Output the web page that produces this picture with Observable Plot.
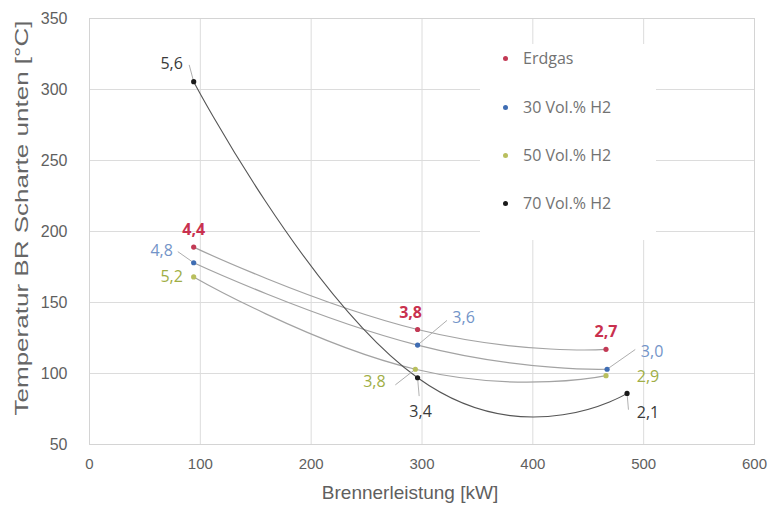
<!DOCTYPE html>
<html>
<head>
<meta charset="utf-8">
<script src="https://cdn.jsdelivr.net/npm/d3@7"></script>
<script src="https://cdn.jsdelivr.net/npm/@observablehq/plot@0.6"></script>
<style>
  body { margin: 0; background: #fff; }
  #chart { position: relative; width: 776px; height: 508px; }
  #legend { position: absolute; left: 480px; top: 44px; width: 176px; height: 196px; background: #fff;
            font-family: "Open Sans", sans-serif; font-size: 16px; color: #727272; }
  .lg { position: absolute; left: 0; height: 20px; line-height: 20px; white-space: nowrap; }
  .lg i { position: absolute; left: 23px; top: 7.5px; width: 5px; height: 5px; border-radius: 50%; }
  .lg span { position: absolute; left: 43px; top: 0; }
</style>
</head>
<body>
<div id="chart"><div id="legend"></div></div>
<script>
// ---- data ----
const seriesNames = ["Erdgas", "30 Vol.% H2", "50 Vol.% H2", "70 Vol.% H2"];
const loadErdgas = [94, 296, 466];
const tempErdgas = [189, 131, 117];
const lambdaErdgas = ["4,4", "3,8", "2,7"];
const loadH30 = [94, 296, 467];
const tempH30 = [178, 120, 103];
const lambdaH30 = ["4,8", "3,6", "3,0"];
const loadH50 = [94, 294, 466];
const tempH50 = [168, 103, 98.5];
const lambdaH50 = ["5,2", "3,8", "2,9"];
const loadH70 = [94, 296, 485];
const tempH70 = [305.5, 97, 86];
const lambdaH70 = ["5,6", "3,4", "2,1"];
const xTicks = [0, 100, 200, 300, 400, 500, 600];
const yTicks = [50, 100, 150, 200, 250, 300, 350];

// ---- styles / layout ----
const dotColors = ["#c23a55", "#3f6db3", "#b9bf5e", "#1a1a1a"];
const labelColors = ["#c9314f", "#7394c8", "#a0ae45", "#3a3a3a"];
const labelWeights = ["bold", "normal", "normal", "normal"];
// per series, per point: [dx, dy, leaderLength, leaderAngle]
const labelLayout = [
  [[0, -17, 0, 0], [-7, -17, 0, 0], [0, -17, 0, 0]],
  [[-32, -12, 19, -55], [46, -27, 38, 50], [45, -17, 34, 55]],
  [[-22, 0, 0, 0], [-41, 13, 25, -128], [42, 1, 0, 0]],
  [[-22, -18, 17, -15], [3, 34, 18, 175], [21, 19, 16, 175]]
];

const raw = [
  [loadErdgas, tempErdgas, lambdaErdgas],
  [loadH30, tempH30, lambdaH30],
  [loadH50, tempH50, lambdaH50],
  [loadH70, tempH70, lambdaH70]
];
const points = [];
raw.forEach(([xs, ys, ls], s) => xs.forEach((x, i) => points.push({
  series: seriesNames[s], si: s, i, x, y: ys[i], label: ls[i],
  len: labelLayout[s][i][2], ang: labelLayout[s][i][3]
})));

const leaderShape = { draw(context, l) { context.moveTo(0, 0); context.lineTo(0, -l); } };

const labelMarks = points.map(p => Plot.text([p], {
  x: "x", y: "y", text: "label",
  dx: labelLayout[p.si][p.i][0], dy: labelLayout[p.si][p.i][1],
  fill: labelColors[p.si], fontWeight: labelWeights[p.si],
  fontSize: 16, fontFamily: "Open Sans, sans-serif"
}));

const svg = Plot.plot({
  width: 776, height: 508,
  marginLeft: 89, marginRight: 22, marginTop: 18, marginBottom: 64,
  x: { domain: [0, 600] },
  y: { domain: [50, 350] },
  length: { type: "identity" },
  style: { fontFamily: "Liberation Sans, Arial, sans-serif", color: "#5f5f5f", background: "white", overflow: "visible" },
  marks: [
    Plot.gridX(xTicks, { stroke: "#dcdcdc", strokeOpacity: 1 }),
    Plot.gridY(yTicks, { stroke: "#dcdcdc", strokeOpacity: 1 }),
    Plot.frame({ stroke: "#d4d4d4" }),
    Plot.axisX(xTicks, { tickSize: 0, tickPadding: 14, fontSize: 15, label: null }),
    Plot.axisY(yTicks, { tickSize: 0, tickPadding: 22, fontSize: 16, label: null }),
    Plot.line(points.filter(p => p.si < 3), { x: "x", y: "y", z: "series", curve: "cardinal", tension: -0.5, stroke: "#a3a3a3", strokeWidth: 1.2 }),
    Plot.line(points.filter(p => p.si === 3), { x: "x", y: "y", z: "series", curve: "cardinal", tension: -0.5, stroke: "#555", strokeWidth: 1.1 }),
    Plot.vector(points.filter(p => p.len > 0), { x: "x", y: "y", length: "len", rotate: "ang", anchor: "start", shape: leaderShape, stroke: "#acacac", strokeWidth: 0.9 }),
    Plot.dot(points, { x: "x", y: "y", r: 2.6, fill: p => dotColors[p.si], stroke: "none" }),
    ...labelMarks
  ]
});

const root = d3.select(svg);
root.append("text")
  .attr("x", 410).attr("y", 499)
  .attr("text-anchor", "middle").attr("font-size", 19).attr("fill", "#5f5f5f")
  .text("Brennerleistung [kW]");
root.append("text")
  .attr("transform", "translate(28,218) rotate(-90)")
  .attr("text-anchor", "middle").attr("font-size", 19).attr("fill", "#666")
  .attr("textLength", 395).attr("lengthAdjust", "spacingAndGlyphs")
  .text("Temperatur BR Scharte unten [°C]");

const chart = document.getElementById("chart");
chart.insertBefore(svg, chart.firstChild);
svg.style.position = "absolute"; svg.style.left = "0"; svg.style.top = "0";

const legend = d3.select("#legend");
const legendTops = [4, 53, 101, 149];
seriesNames.forEach((name, s) => {
  const row = legend.append("div").attr("class", "lg").style("top", legendTops[s] + "px");
  row.append("i").style("background", dotColors[s]);
  row.append("span").text(name);
});
</script>
</body>
</html>
